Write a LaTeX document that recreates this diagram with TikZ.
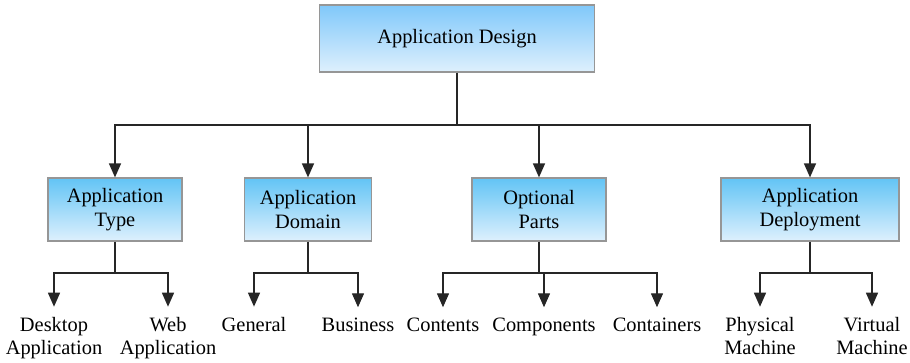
\documentclass[tikz,border=0pt]{standalone}
\usepackage{fontspec}
\setmainfont{Liberation Serif}[Ligatures=TeX]
\usetikzlibrary{arrows.meta}
\definecolor{boxgray}{RGB}{150,150,150}
\definecolor{roottop}{RGB}{128,200,250}
\definecolor{midtop}{RGB}{98,196,245}
\definecolor{boxbot}{RGB}{222,240,253}
\begin{document}
\begin{tikzpicture}[x=1bp,y=-1bp,
  lbl/.style={font=\rmfamily\fontsize{20.5}{23.5}\selectfont},
  rootbox/.style={lbl, draw=boxgray, line width=1.2bp, top color=roottop, bottom color=boxbot, inner sep=0pt, align=center, minimum width=275bp, minimum height=67bp},
  midbox/.style={lbl, draw=boxgray, line width=1.2bp, top color=midtop, bottom color=boxbot, inner sep=0pt, align=center, minimum height=63bp},
  leaf/.style={lbl, align=center, inner sep=0pt, anchor=base},
  conn/.style={line width=1.4bp, draw=black!85, -{Triangle[length=14bp,width=12bp]}},
  leafconn/.style={conn, shorten >=10bp},
  line/.style={line width=1.4bp, draw=black!85}]
\useasboundingbox (0,0) rectangle (910,362);

\node[rootbox] (root) at (457,38.5) {Application Design};

\node[midbox, minimum width=134bp] (m1) at (115,209.5) {Application\\Type};
\node[midbox, minimum width=127bp] (m2) at (308,209.5) {Application\\Domain};
\node[midbox, minimum width=134bp] (m3) at (539,209.5) {Optional\\Parts};
\node[midbox, minimum width=178bp] (m4) at (810,209.5) {Application\\Deployment};

\node[leaf] (l1) at (54,354.5) {Desktop\\Application};
\node[leaf] (l2) at (168,354.5) {Web\\Application};
\node[leaf] (l3) at (254,331) {General};
\node[leaf] (l4) at (358,331) {Business};
\node[leaf] (l5) at (443,331) {Contents};
\node[leaf] (l6) at (544,331) {Components};
\node[leaf] (l7) at (657,331) {Containers};
\node[leaf] (l8) at (760,354.5) {Physical\\Machine};
\node[leaf] (l9) at (872,354.5) {Virtual\\Machine};

% top level
\coordinate (rb) at (457,125);
\draw[line] (root.south) -- (rb);
\foreach \m in {m1,m2,m3,m4}
  \draw[conn] (rb) -| (\m.north);

% second level
\coordinate (b1) at (115,273);
\coordinate (b2) at (308,273);
\coordinate (b3) at (539,273);
\coordinate (b4) at (810,273);
\foreach \i in {1,2,3,4}
  \draw[line] (m\i.south) -- (b\i);
\foreach \b/\l in {b1/l1, b1/l2, b2/l3, b2/l4, b3/l5, b3/l6, b3/l7, b4/l8, b4/l9}
  \draw[leafconn] (\b) -| (\l.north);
\end{tikzpicture}
\end{document}
